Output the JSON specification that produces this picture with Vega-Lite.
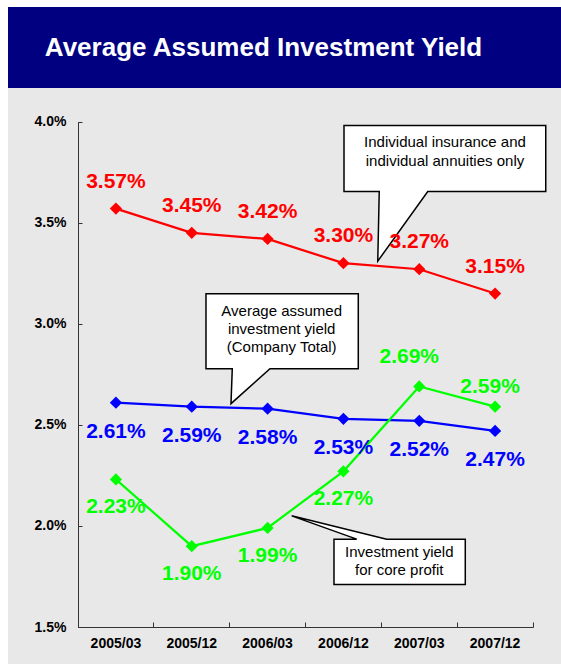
{
  "$schema": "https://vega.github.io/schema/vega-lite/v6.json",
  "background": "white",
  "padding": {"left": 8, "top": 7, "right": 0, "bottom": 0},
  "spacing": 0,
  "bounds": "flush",
  "config": {"view": {"stroke": null}, "font": "Liberation Sans"},
  "datasets": {
    "yields": [
      {"date": "2005/03", "series": "Individual", "value": 0.0357},
      {"date": "2005/12", "series": "Individual", "value": 0.0345},
      {"date": "2006/03", "series": "Individual", "value": 0.0342},
      {"date": "2006/12", "series": "Individual", "value": 0.0330},
      {"date": "2007/03", "series": "Individual", "value": 0.0327},
      {"date": "2007/12", "series": "Individual", "value": 0.0315},
      {"date": "2005/03", "series": "Total", "value": 0.0261},
      {"date": "2005/12", "series": "Total", "value": 0.0259},
      {"date": "2006/03", "series": "Total", "value": 0.0258},
      {"date": "2006/12", "series": "Total", "value": 0.0253},
      {"date": "2007/03", "series": "Total", "value": 0.0252},
      {"date": "2007/12", "series": "Total", "value": 0.0247},
      {"date": "2005/03", "series": "Core", "value": 0.0223},
      {"date": "2005/12", "series": "Core", "value": 0.0190},
      {"date": "2006/03", "series": "Core", "value": 0.0199},
      {"date": "2006/12", "series": "Core", "value": 0.0227},
      {"date": "2007/03", "series": "Core", "value": 0.0269},
      {"date": "2007/12", "series": "Core", "value": 0.0259}
    ]
  },
  "vconcat": [
    {
      "width": 553,
      "height": 81,
      "view": {"fill": "#000080", "stroke": null},
      "data": {"values": [{"t": "Average Assumed Investment Yield"}]},
      "mark": {"type": "text", "font": "Liberation Sans", "fontSize": 26, "fontWeight": "bold", "color": "white", "dx": -21, "baseline": "middle", "align": "center"},
      "encoding": {"text": {"field": "t", "type": "nominal"}}
    },
    {
      "width": 553,
      "height": 576,
      "view": {"fill": "#e8e8e8", "stroke": null},
      "encoding": {
        "x": {
          "field": "date", "type": "ordinal",
          "scale": {"type": "band", "domain": ["2005/03", "2005/12", "2006/03", "2006/12", "2007/03", "2007/12"], "range": [70, 525], "paddingInner": 0, "paddingOuter": 0},
          "axis": {"title": null, "orient": "bottom", "offset": -37, "bandPosition": 1, "tickExtra": true, "tickSize": -5, "labelPadding": 14, "labelAngle": 0, "labelFont": "Liberation Sans", "labelFontSize": 14, "labelFontWeight": "bold", "labelColor": "#000000", "domainColor": "#333333", "tickColor": "#333333", "grid": false}
        },
        "y": {
          "field": "value", "type": "quantitative",
          "scale": {"domain": [0.015, 0.04], "range": [539, 33.7], "zero": false, "nice": false},
          "axis": {"title": null, "orient": "left", "offset": -70, "values": [0.015, 0.02, 0.025, 0.03, 0.035, 0.04], "format": ".1%", "tickSize": -4, "labelPadding": 16, "labelFont": "Liberation Sans", "labelFontSize": 14, "labelFontWeight": "bold", "labelColor": "#000000", "domainColor": "#333333", "tickColor": "#333333", "grid": false}
        }
      },
      "layer": [
        {
          "data": {"name": "yields"},
          "mark": {"type": "line", "strokeWidth": 2.25},
          "encoding": {
            "color": {"field": "series", "type": "nominal", "scale": {"domain": ["Individual", "Total", "Core"], "range": ["#ff0000", "#0000ff", "#00ff00"]}, "legend": null},
            "detail": {"field": "series"}
          }
        },
        {
          "data": {"name": "yields"},
          "mark": {"type": "point", "shape": "diamond", "filled": true, "size": 150, "opacity": 1},
          "encoding": {
            "color": {"field": "series", "type": "nominal", "scale": {"domain": ["Individual", "Total", "Core"], "range": ["#ff0000", "#0000ff", "#00ff00"]}, "legend": null}
          }
        },
        {
          "data": {"values": [{"date": "2007/03", "value": 0.0331}]},
          "mark": {"type": "point", "shape": "M-41.5,0 L-40,-69.7 L-75.25,-69.7 L-75.25,-135.7 L126.5,-135.7 L126.5,-69.7 L8.5,-69.7 Z", "size": 4, "filled": true, "fill": "white", "stroke": "black", "strokeWidth": 1.5, "opacity": 1}
        },
        {
          "data": {"values": [{"date": "2007/03", "value": 0.0331, "note": "Individual insurance and\nindividual annuities only"}]},
          "mark": {"type": "text", "lineBreak": "\n", "font": "Liberation Sans", "fontSize": 15, "lineHeight": 19, "color": "black", "align": "center", "baseline": "middle", "dx": 25.75, "dy": -118.7},
          "encoding": {"text": {"field": "note", "type": "nominal"}}
        },
        {
          "data": {"values": [{"date": "2006/03", "value": 0.02605}]},
          "mark": {"type": "point", "shape": "M-36.6,0 L-35.3,-35 L-61.6,-35 L-61.6,-110 L90.7,-110 L90.7,-35 L2.4,-35 Z", "size": 4, "filled": true, "fill": "white", "stroke": "black", "strokeWidth": 1.5, "opacity": 1}
        },
        {
          "data": {"values": [{"date": "2006/03", "value": 0.02605, "note": "Average assumed\ninvestment yield\n(Company Total)"}]},
          "mark": {"type": "text", "lineBreak": "\n", "font": "Liberation Sans", "fontSize": 15, "lineHeight": 18, "color": "black", "align": "center", "baseline": "middle", "dx": 14.1, "dy": -92.6},
          "encoding": {"text": {"field": "note", "type": "nominal"}}
        },
        {
          "data": {"values": [{"date": "2006/03", "value": 0.0205}]},
          "mark": {"type": "point", "shape": "M24.1,0 L119.1,23.3 L197.7,23.3 L197.7,68.6 L66.4,68.6 L66.4,23.3 L89.1,23.3 Z", "size": 4, "filled": true, "fill": "white", "stroke": "black", "strokeWidth": 1.5, "opacity": 1}
        },
        {
          "data": {"values": [{"date": "2006/03", "value": 0.0205, "note": "Investment yield\nfor core profit"}]},
          "mark": {"type": "text", "lineBreak": "\n", "font": "Liberation Sans", "fontSize": 15, "lineHeight": 18, "color": "black", "align": "center", "baseline": "middle", "dx": 131.7, "dy": 36.6},
          "encoding": {"text": {"field": "note", "type": "nominal"}}
        },
        {
          "data": {"name": "yields"},
          "transform": [{"filter": "datum.series == 'Individual'"}],
          "mark": {"type": "text", "font": "Liberation Sans", "fontSize": 21, "fontWeight": "bold", "color": "#ff0000", "align": "center", "baseline": "middle", "dy": -27},
          "encoding": {"text": {"field": "value", "type": "quantitative", "format": ".2%"}}
        },
        {
          "data": {"name": "yields"},
          "transform": [{"filter": "datum.series == 'Total'"}],
          "mark": {"type": "text", "font": "Liberation Sans", "fontSize": 21, "fontWeight": "bold", "color": "#0000ff", "align": "center", "baseline": "middle", "dy": 29},
          "encoding": {"text": {"field": "value", "type": "quantitative", "format": ".2%"}}
        },
        {
          "data": {"name": "yields"},
          "transform": [{"filter": "datum.series == 'Core' && datum.date != '2007/03' && datum.date != '2007/12'"}],
          "mark": {"type": "text", "font": "Liberation Sans", "fontSize": 21, "fontWeight": "bold", "color": "#00ff00", "align": "center", "baseline": "middle", "dy": 28},
          "encoding": {"text": {"field": "value", "type": "quantitative", "format": ".2%"}}
        },
        {
          "data": {"name": "yields"},
          "transform": [{"filter": "datum.series == 'Core' && datum.date == '2007/03'"}],
          "mark": {"type": "text", "font": "Liberation Sans", "fontSize": 21, "fontWeight": "bold", "color": "#00ff00", "align": "center", "baseline": "middle", "dx": -10, "dy": -29},
          "encoding": {"text": {"field": "value", "type": "quantitative", "format": ".2%"}}
        },
        {
          "data": {"name": "yields"},
          "transform": [{"filter": "datum.series == 'Core' && datum.date == '2007/12'"}],
          "mark": {"type": "text", "font": "Liberation Sans", "fontSize": 21, "fontWeight": "bold", "color": "#00ff00", "align": "center", "baseline": "middle", "dx": -5, "dy": -20},
          "encoding": {"text": {"field": "value", "type": "quantitative", "format": ".2%"}}
        }
      ]
    }
  ]
}
